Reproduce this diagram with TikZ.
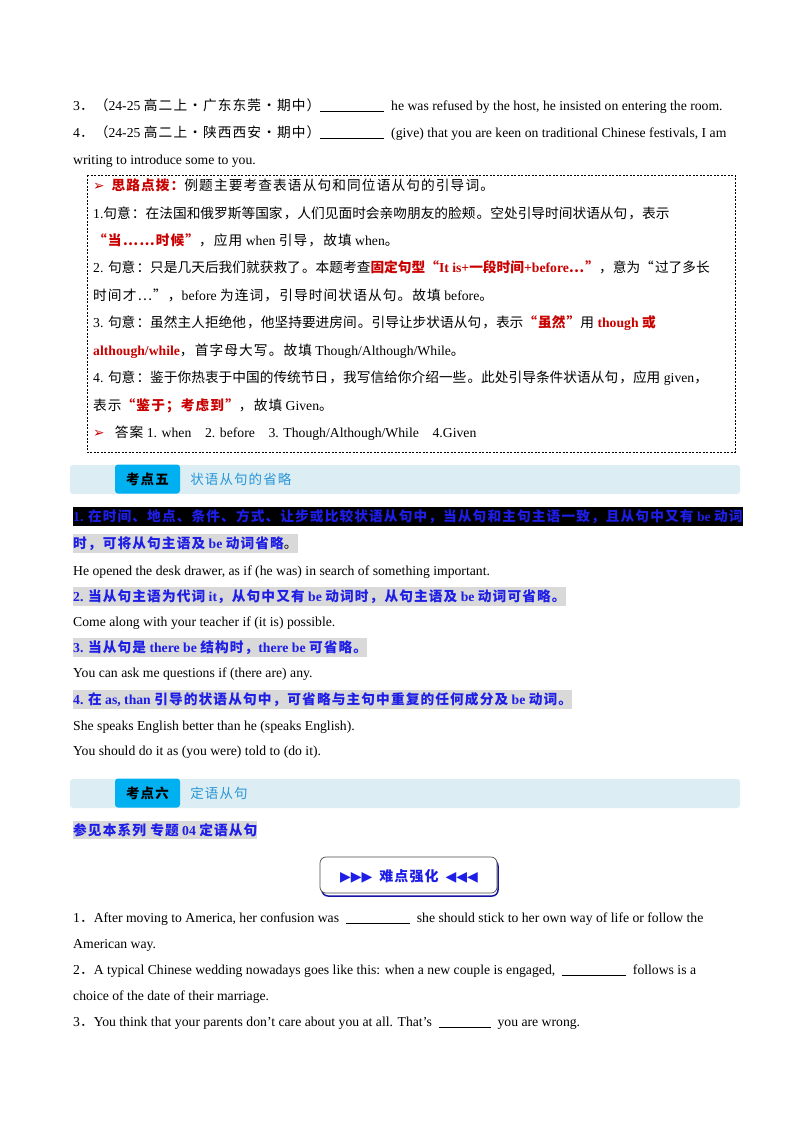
\documentclass[tikz,border=0pt]{standalone}
\usepackage{fontspec}
\setmainfont{Liberation Serif}
\newfontfamily\cjk[LetterSpace=8]{Noto Sans CJK SC}
\newfontfamily\sym{DejaVu Sans}
\usetikzlibrary{positioning}
\XeTeXlinebreaklocale "zh"
\XeTeXlinebreakskip=0pt plus 2pt
\definecolor{ansred}{RGB}{200,0,0}
\definecolor{ptblue}{RGB}{30,30,230}
\definecolor{barblue}{RGB}{220,238,244}
\definecolor{tabblue}{RGB}{0,176,240}
\definecolor{ttlblue}{RGB}{40,150,215}
\definecolor{hlgray}{RGB}{217,217,217}
\newcommand{\zh}[1]{{\cjk #1}}
\newcommand{\rd}[1]{\textcolor{ansred}{\bfseries #1}}
\newcommand{\blank}[1]{\rule[-2pt]{#1}{0.6pt}}
\newcommand{\pt}{{\sym\textcolor{ansred}{\char"27A2}}}
\tikzset{
  txt/.style={anchor=base west, inner sep=0pt, font=\fontsize{13.7}{16}\selectfont},
  jline/.style={txt, text width=#1, align=justify},
  hl/.style={txt, fill=hlgray, inner ysep=2.5pt, text=ptblue, font=\fontsize{13.7}{16}\selectfont\bfseries},
  bar/.style={fill=barblue, rounded corners=3pt, draw=none},
  tab/.style={fill=tabblue, rounded corners=3pt, minimum width=65pt, minimum height=29pt, inner sep=0pt, font=\fontsize{13.5}{15}\selectfont\bfseries\cjk},
  ttl/.style={anchor=west, text=ttlblue, inner sep=0pt, font=\fontsize{13.5}{15}\selectfont\cjk}
}
\begin{document}
\begin{tikzpicture}[x=1pt,y=-1pt]
    \useasboundingbox[fill=white] (0,0) rectangle (800,1132);

    % exercises on top
    \node[txt] (q3) at (73,110) {3\zh{．（}24-25 \zh{高二上·广东东莞·期中）}\blank{64pt}\ \ he was refused by the host, he insisted on entering the room.};
    \node[txt] (q4) at (73,137) {4\zh{．（}24-25 \zh{高二上·陕西西安·期中）}\blank{64pt}\ \ (give) that you are keen on traditional Chinese festivals, I am};
    \node[txt] (q4b) at (73,164) {writing to introduce some to you.};

    % hint box
    \draw[dash pattern=on 2pt off 1.5pt, line width=0.6pt] (87,175) rectangle (735,452);
    \node[txt] (h0) at (93,190) {\pt\ \ \zh{\rd{思路点拨：}例题主要考查表语从句和同位语从句的引导词。}};
    \node[jline=634pt] (h1) at (93,218) {\parfillskip=0pt 1.\zh{句意：在法国和俄罗斯等国家，人们见面时会亲吻朋友的脸颊。空处引导时间状语从句，表示}};
    \node[txt] (h2) at (93,245) {\rd{\zh{“当……时候”}}\zh{，应用} when \zh{引导，故填} when\zh{。}};
    \node[jline=634pt] (h3) at (93,272) {\parfillskip=0pt 2. \zh{句意：只是几天后我们就获救了。本题考查}\rd{\zh{固定句型“}It is+\zh{一段时间}+before\zh{…”}}\zh{，意为“过了多长}};
    \node[txt] (h4) at (93,300) {\zh{时间才…”，}before \zh{为连词，引导时间状语从句。故填} before\zh{。}};
    \node[jline=634pt] (h5) at (93,327) {\parfillskip=0pt 3. \zh{句意：虽然主人拒绝他，他坚持要进房间。引导让步状语从句，表示}\rd{\zh{“虽然”}}\zh{用} \rd{though \zh{或}}};
    \node[txt] (h6) at (93,355) {\rd{although/while}\zh{，首字母大写。故填} Though/Although/While\zh{。}};
    \node[jline=634pt] (h7) at (93,382) {\parfillskip=0pt 4. \zh{句意：鉴于你热衷于中国的传统节日，我写信给你介绍一些。此处引导条件状语从句，应用} given\zh{，}};
    \node[txt] (h8) at (93,410) {\zh{表示}\rd{\zh{“鉴于；考虑到”}}\zh{，故填} Given\zh{。}};
    \node[txt] (h9) at (93,437) {\pt\ \ \ \zh{答案} 1. when\ \ \ \ 2. before\ \ \ \ 3. Though/Although/While\ \ \ \ 4.Given};

    % point five
    \draw[bar] (70,465) rectangle (740,494);
    \node[tab] (tab5) at (147.5,479) {考点五};
    \node[ttl, right=10pt of tab5] (ttl5) {状语从句的省略};
    \node[hl, fill=black] (r1) at (73,521) {1. \zh{在时间、地点、条件、方式、让步或比较状语从句中，当从句和主句主语一致，且从句中又有} be \zh{动词}};
    \node[hl] (r1b) at (73,548) {\zh{时，可将从句主语及} be \zh{动词省略}\textcolor{black}{\mdseries\zh{。}}};
    \node[txt] (e1) at (73,575) {He opened the desk drawer, as if (he was) in search of something important.};
    \node[hl] (r2) at (73,601) {2. \zh{当从句主语为代词} it\zh{，从句中又有} be \zh{动词时，从句主语及} be \zh{动词可省略。}};
    \node[txt] (e2) at (73,626) {Come along with your teacher if (it is) possible.};
    \node[hl] (r3) at (73,652) {3. \zh{当从句是} there be \zh{结构时，}there be \zh{可省略。}};
    \node[txt] (e3) at (73,677) {You can ask me questions if (there are) any.};
    \node[hl] (r4) at (73,704) {4. \zh{在} as, than \zh{引导的状语从句中，可省略与主句中重复的任何成分及} be \zh{动词。}};
    \node[txt] (e4) at (73,730) {She speaks English better than he (speaks English).};
    \node[txt] (e5) at (73,755) {You should do it as (you were) told to (do it).};

    % point six
    \draw[bar] (70,779) rectangle (740,808);
    \node[tab] (tab6) at (147.5,793) {考点六};
    \node[ttl, right=10pt of tab6] (ttl6) {定语从句};
    \node[hl] (see) at (73,835) {\zh{参见本系列\ 专题} 04\ \zh{定语从句}};

    % hard points banner
    \draw[ptblue!70!black, line width=1.5pt, rounded corners=6pt] (322,860) rectangle (498,896);
    \draw[fill=white, draw=black!70, line width=0.7pt, rounded corners=6pt] (320,857) rectangle (497,893);
    \node[inner sep=0pt, text=ptblue, font=\fontsize{14}{16}\selectfont\bfseries] (hard) at (409,876) {{\sym ▶▶▶}\ \ \zh{难点强化}\ \ {\sym ◀◀◀}};

    % exercises below
    \node[jline=654pt] (p1) at (73,922) {\parfillskip=0pt 1\zh{．}After moving to America, her confusion was \ \blank{64pt}\ \ she should stick to her own way of life or follow the};
    \node[txt] (p1b) at (73,948) {American way.};
    \node[jline=654pt] (p2) at (73,974) {\parfillskip=0pt 2\zh{．}A typical Chinese wedding nowadays goes like this: when a new couple is engaged, \ \blank{64pt}\ \ follows is a};
    \node[txt] (p2b) at (73,1000) {choice of the date of their marriage.};
    \node[txt] (p3) at (73,1026) {3\zh{．}You think that your parents don’t care about you at all. That’s \ \blank{52pt}\ \ you are wrong.};
\end{tikzpicture}
\end{document}
